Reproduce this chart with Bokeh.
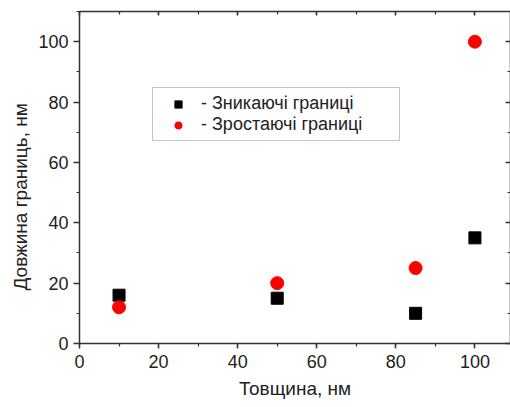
from bokeh.plotting import figure
from bokeh.models import (LinearAxis, SingleIntervalTicker, Range1d, Legend, LegendItem,
                          Title, CustomJSTickFormatter)
from bokeh.embed import file_html
from bokeh.resources import INLINE

# ---- data ----
thickness = [10, 50, 85, 100]
vanishing = [16, 15, 10, 35]      # black squares
growing = [12, 20, 25, 100]       # red circles
x_label = "Товщина, нм"
y_label = "Довжина границь, нм"
series_names = ["- Зникаючі границі", "- Зростаючі границі"]

FONT = "Liberation Sans"
AX = "#333333"
TXT = "#222222"

p = figure(width=510, height=407, output_backend="svg", toolbar_location=None,
           x_range=Range1d(0, 109), y_range=Range1d(0, 110),
           x_axis_location=None, y_axis_location=None,
           min_border_left=79, min_border_right=0, min_border_top=11,
           min_border_bottom=64)
p.grid.visible = False
p.outline_line_color = None
p.background_fill_color = "white"
p.border_fill_color = "white"

xt = SingleIntervalTicker(interval=20, num_minor_ticks=2)
yt = SingleIntervalTicker(interval=20, num_minor_ticks=2)
blank = CustomJSTickFormatter(code="return ''")


def style(ax):
    ax.axis_line_color = AX
    ax.axis_line_width = 1.5
    ax.major_tick_line_color = AX
    ax.minor_tick_line_color = AX
    ax.major_tick_line_width = 1.5
    ax.minor_tick_line_width = 1.2
    ax.major_label_text_font = FONT
    ax.major_label_text_font_size = "18px"
    ax.major_label_text_color = TXT
    ax.axis_label_text_font = FONT
    ax.axis_label_text_font_size = "19px"
    ax.axis_label_text_font_style = "normal"
    ax.axis_label_text_color = TXT


bottom = LinearAxis(ticker=xt, axis_label=x_label)
style(bottom)
bottom.major_tick_out = 5
bottom.major_tick_in = 0
bottom.minor_tick_out = 3
bottom.minor_tick_in = 0
bottom.major_label_standoff = 6
bottom.axis_label_standoff = 7
p.add_layout(bottom, "below")

left = LinearAxis(ticker=yt)
style(left)
left.major_tick_out = 6
left.major_tick_in = 0
left.minor_tick_out = 3
left.minor_tick_in = 0
left.major_label_standoff = 5
p.add_layout(left, "left")

top = LinearAxis(ticker=xt, formatter=blank)
style(top)
top.major_tick_out = 0
top.major_tick_in = 4
top.minor_tick_out = 0
top.minor_tick_in = 3
top.major_label_text_font_size = "1px"
top.major_label_standoff = 0
p.add_layout(top, "above")

right = LinearAxis(ticker=yt, formatter=blank)
style(right)
right.major_tick_out = 0
right.major_tick_in = 5
right.minor_tick_out = 0
right.minor_tick_in = 3
right.major_label_text_font_size = "1px"
right.major_label_standoff = 0
p.add_layout(right, "right")

r_sq = p.scatter(thickness, vanishing, marker="square", size=12,
                 fill_color="black", line_color="black")
r_ci = p.scatter(thickness, growing, marker="circle", size=13,
                 fill_color="#ff0000", line_color="#ff0000")

legend = Legend(items=[LegendItem(label=series_names[0], renderers=[r_sq]),
                       LegendItem(label=series_names[1], renderers=[r_ci])],
                location=(73, 202), padding=5, spacing=0,
                glyph_width=40, glyph_height=18, label_height=21,
                label_width=193, label_standoff=3,
                label_text_font=FONT, label_text_font_size="18px",
                label_text_color=TXT, border_line_color="#888888",
                border_line_width=1.2, background_fill_alpha=1.0,
                margin=0)
p.add_layout(legend, "center")

# y-axis title, set in the left margin as a side title
ytitle = Title(text=y_label, align="left", offset=53, standoff=10,
               text_font=FONT, text_font_size="19px", text_font_style="normal",
               text_color=TXT)
p.add_layout(ytitle, "left")

open("out.html", "w").write(file_html(p, INLINE))
